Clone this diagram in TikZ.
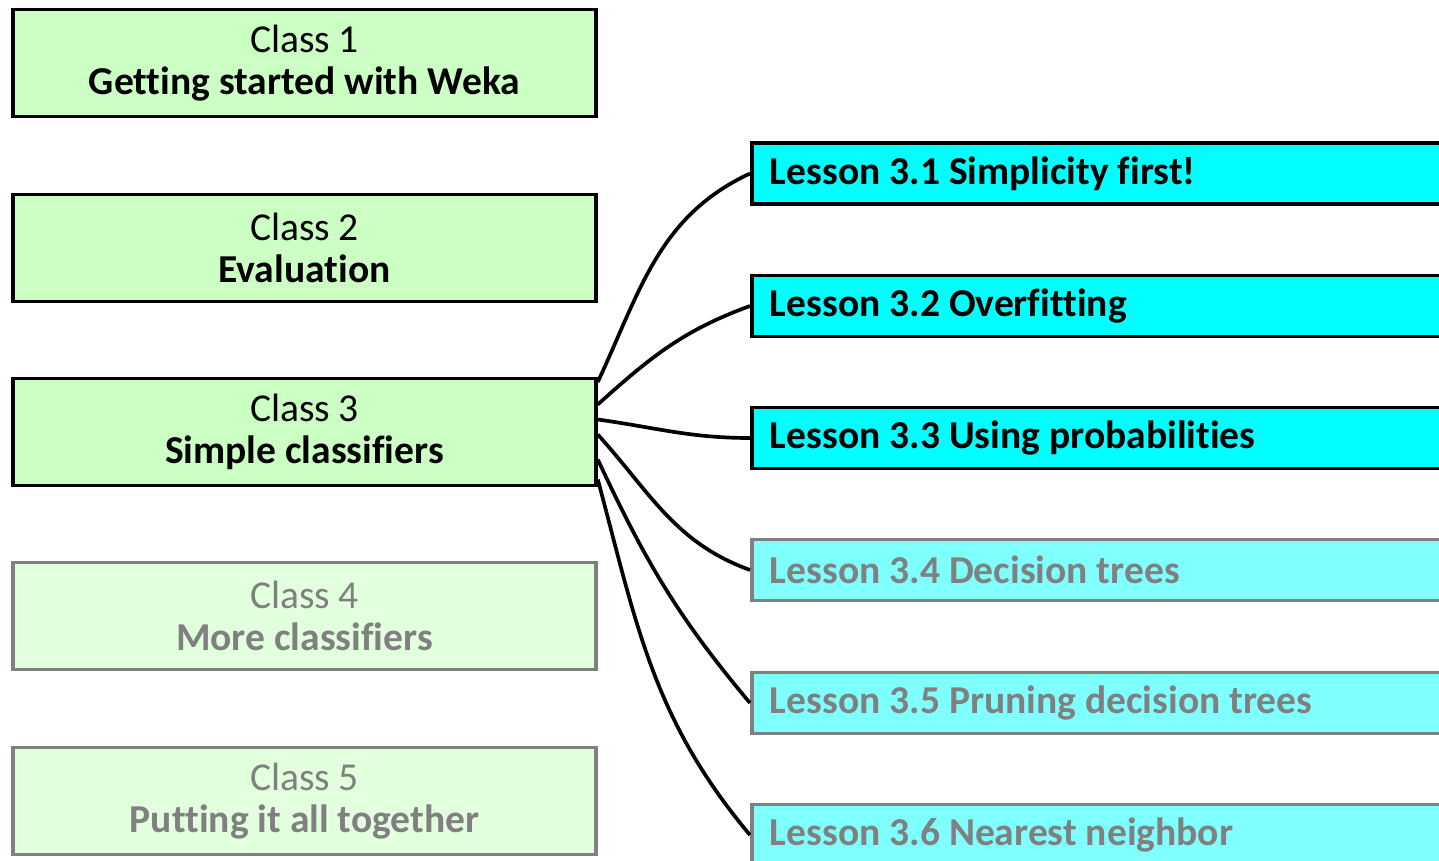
\documentclass[tikz,border=0pt]{standalone}
\usepackage{fontspec}
\setmainfont{Carlito}[Ligatures=NoCommon]
\usepackage{xcolor}
\usetikzlibrary{positioning}

\definecolor{verde}{HTML}{CCFFC4}
\definecolor{verdechiaro}{HTML}{E2FFDE}
\definecolor{ciano}{HTML}{00FFFF}
\definecolor{cianochiaro}{HTML}{80FFFF}
\definecolor{grigio}{HTML}{808080}

\begin{document}
\begin{tikzpicture}[x=0.02cm,y=-0.02cm]

% Stili per classi e lezioni
\tikzset{
  classe/.style={draw=black, line width=2.1pt, fill=verde, minimum width=11.66cm,
    minimum height=2.14cm, inner sep=0pt, align=center,
    font=\fontsize{22.5}{24}\selectfont},
  classespenta/.style={classe, draw=grigio, fill=verdechiaro, text=grigio},
  lezione/.style={draw=black, line width=2.1pt, fill=ciano, minimum height=1.22cm,
    text width=13.8cm, inner xsep=0.36cm, inner ysep=0pt, align=flush left, anchor=west,
    font=\fontsize{22.5}{24}\selectfont\bfseries},
  lezionespenta/.style={lezione, draw=grigio, fill=cianochiaro, text=grigio},
  filo/.style={line width=2.1pt}
}

\clip (0,0) rectangle (1439,861);

% --- Colonna sinistra: le classi ---
\node[classe] (c1) at (304.5,63) {Class 1\\\textbf{Getting started with Weka}};
\node[classe] (c2) at (304.5,248) {Class 2\\\textbf{Evaluation}};
\node[classe] (c3) at (304.5,432) {Class 3\\\textbf{Simple classifiers}};
\node[classespenta] (c4) at (304.5,616) {Class 4\\\textbf{More classifiers}};
\node[classespenta] (c5) at (304.5,801) {Class 5\\\textbf{Putting it all together}};

% --- Colonna destra: le lezioni della classe 3 ---
\node[lezione] (l1) at (750,173.5) {Lesson 3.1 Simplicity first!};
\node[lezione] (l2) at (750,306) {Lesson 3.2 Overfitting};
\node[lezione] (l3) at (750,438) {Lesson 3.3 Using probabilities};
\node[lezionespenta] (l4) at (750,570) {Lesson 3.4 Decision trees};
\node[lezionespenta] (l5) at (750,703) {Lesson 3.5 Pruning decision trees};
\node[lezionespenta] (l6) at (750,835) {Lesson 3.6 Nearest neighbor};

% Collegamenti
\draw[filo] ([yshift=1.0cm]c3.east) to[out=65,in=205] (l1.west);
\draw[filo] ([yshift=0.55cm]c3.east) to[out=42,in=200] (l2.west);
\draw[filo] ([yshift=0.25cm]c3.east) to[out=-8,in=180] (l3.west);
\draw[filo] ([yshift=-0.05cm]c3.east) to[out=-48,in=160] (l4.west);
\draw[filo] ([yshift=-0.55cm]c3.east) to[out=-65,in=130] (l5.west);
\draw[filo] ([yshift=-0.95cm]c3.east) to[out=-75,in=130] (l6.west);
\end{tikzpicture}
\end{document}
